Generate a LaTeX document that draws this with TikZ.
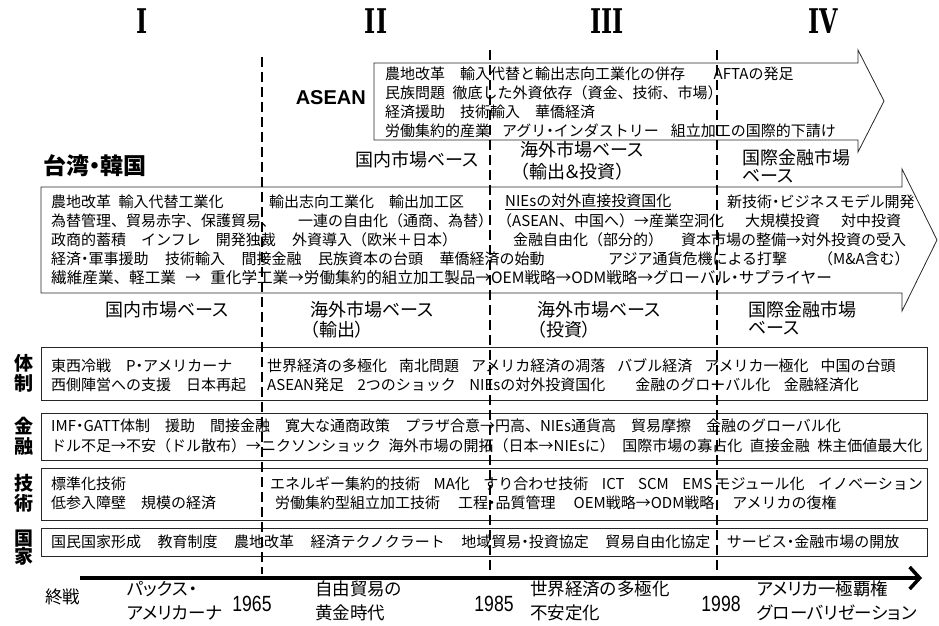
\documentclass[tikz,border=0pt]{standalone}
\usepackage{fontspec}
\setmainfont{Liberation Sans}
\newfontfamily\jp{Noto Sans CJK JP}[RawFeature=+palt]
\newfontfamily\jpn{Noto Sans CJK JP}
\newfontfamily\romanfont{DejaVu Serif}
\usetikzlibrary{arrows.meta}
\newcommand\G[1][1]{\hspace{#1em}}
\newcommand\D{{\jp ・}}
\begin{document}
\begin{tikzpicture}[x=1pt,y=-1pt,
  txt/.style={anchor=west,inner sep=0pt,font=\jpn\fontsize{15}{17}\selectfont},
  lab/.style={anchor=west,inner sep=0pt,align=left,font=\jp\fontsize{18}{21}\selectfont},
  side/.style={inner sep=0pt,align=center,font=\jp\bfseries\fontsize{19}{20}\selectfont},
  numeral/.style={inner sep=0pt,font=\romanfont\bfseries\fontsize{34}{34}\selectfont},
  rowbox/.style={draw=black!85,line width=0.8pt},
  bigarrow/.style={draw=black!85,line width=0.8pt,line join=miter},
  divider/.style={line width=2.8pt,dash pattern=on 10pt off 5pt},
  year/.style={inner sep=0pt,font=\fontsize{22}{22}\selectfont},
  era/.style={anchor=west,inner sep=0pt,align=left,font=\jp\fontsize{17.5}{24}\selectfont}
]
\useasboundingbox (0,0) rectangle (939,625);

% era numerals
\node[numeral] (n1) at (142,21) {\scalebox{0.7}[1]{I}};
\node[numeral] (n2) at (376,21) {\scalebox{0.7}[1]{II}};
\node[numeral] (n3) at (607,21) {\scalebox{0.7}[1]{III}};
\node[numeral] (n4) at (823,21) {\scalebox{0.7}[1]{IV}};

% ASEAN arrow
\draw[bigarrow] (374,63) -- (858,63) -- (858,50) -- (884,101) -- (858,152) -- (858,140) -- (374,140) -- cycle;
\node[inner sep=0pt,anchor=east,font=\bfseries\fontsize{20}{20}\selectfont] (asean) at (366,98) {ASEAN};
\node[txt] (a1) at (385,74) {農地改革\G 輸入代替と輸出志向工業化の併存\G[1.9]AFTAの発足};
\node[txt] (a2) at (385,93) {民族問題\G[0.5]徹底した外資依存（資金、技術、市場）};
\node[txt] (a3) at (385,112) {経済援助\G 技術輸入\G 華僑経済};
\node[txt] (a4) at (385,131) {労働集約的産業\G[0.8]アグリ\D インダストリー\G[0.8]組立加工の国際的下請け};

% Taiwan / Korea
\node[anchor=west,inner sep=0pt,font=\jp\bfseries\fontsize{23}{23}\selectfont] (tw) at (43,166) {台湾・韓国};
\node[lab] (u1) at (355,160) {国内市場ベース};
\node[lab,font=\jp\fontsize{18}{22}\selectfont] (u2) at (520,161) {海外市場ベース\\（輸出＆投資）};
\node[lab,font=\jp\fontsize{18}{18}\selectfont] (u3) at (742,166) {国際金融市場\\ベース};

\draw[bigarrow] (41,187) -- (902,187) -- (902,169) -- (937,240) -- (902,311) -- (902,293) -- (41,293) -- cycle;
\node[txt] (t1a) at (51,202) {農地改革\G[0.5]輸入代替工業化};
\node[txt] (t1b) at (269,202) {輸出志向工業化\G 輸出加工区};
\node[txt] (t1c) at (505,202) {\underline{NIEsの対外直接投資国化}};
\node[txt] (t1d) at (727,202) {新技術\D ビジネスモデル開発};
\node[txt] (t2a) at (51,221) {為替管理、貿易赤字、保護貿易、};
\node[txt] (t2b) at (298,221) {一連の自由化（通商、為替）};
\node[txt] (t2c) at (497,221) {（ASEAN、中国へ）→産業空洞化\G[1.4]大規模投資\G[1.4]対中投資};
\node[txt] (t3a) at (51,240) {政商的蓄積\G インフレ\G 開発独裁};
\node[txt] (t3b) at (292,240) {外資導入（欧米＋日本）};
\node[txt] (t3c) at (513,240) {金融自由化（部分的）\G[1.2]資本市場の整備→対外投資の受入};
\node[txt] (t4a) at (51,259) {経済\D 軍事援助\G[1.1]技術輸入\G[1.1]間接金融\G[1.1]民族資本の台頭\G[1.1]華僑経済の始動};
\node[txt] (t4b) at (608,259) {アジア通貨危機による打撃};
\node[txt] (t4c) at (818,259) {（M\&A含む）};
\node[txt,font=\jpn\fontsize{15.6}{17}\selectfont] (t5) at (51,278) {繊維産業、軽工業\G[0.6]→\G[0.6]重化学工業→労働集約的組立加工製品→OEM戦略→ODM戦略→グローバル\D サプライヤー};

\node[lab] (l1) at (105,310) {国内市場ベース};
\node[lab,font=\jp\fontsize{18}{20}\selectfont] (l2) at (310,320) {海外市場ベース\\（輸出）};
\node[lab,font=\jp\fontsize{18}{20}\selectfont] (l3) at (537,320) {海外市場ベース\\（投資）};
\node[lab,font=\jp\fontsize{18}{18}\selectfont] (l4) at (748,318) {国際金融市場\\ベース};

% 体制
\node[side] (sTai) at (24,373) {体\\制};
\draw[rowbox] (41,347) rectangle (927,400);
\node[txt] (s1a) at (51,366) {東西冷戦\G P\D アメリカーナ};
\node[txt] (s1b) at (267,366) {世界経済の多極化\G[0.8]南北問題\G[0.8]アメリカ経済の凋落\G[0.8]バブル経済\G[0.8]アメリカ一極化\G[0.8]中国の台頭};
\node[txt] (s2a) at (51,385) {西側陣営への支援\G 日本再起};
\node[txt] (s2b) at (267,385) {ASEAN発足\G[0.9]2つのショック\G[0.9]NIEsの対外投資国化\G[2]金融のグローバル化\G[0.9]金融経済化};

% 金融
\node[side] (sKin) at (24,436) {金\\融};
\draw[rowbox] (41,413) rectangle (927,460);
\node[txt] (f1) at (51,426) {IMF\D GATT体制\G 援助\G 間接金融\G 寛大な通商政策\G プラザ合意→円高、NIEs通貨高\G 貿易摩擦\G 金融のグローバル化};
\node[txt] (f2) at (51,446) {ドル不足→不安（ドル散布）→ニクソンショック\G[0.5]海外市場の開拓（日本→NIEsに）\G[0.5]国際市場の寡占化\G[0.5]直接金融\G[0.5]株主価値最大化};

% 技術
\node[side] (sGi) at (24,493) {技\\術};
\draw[rowbox] (41,468) rectangle (927,520);
\node[txt] (g1a) at (51,484) {標準化技術};
\node[txt] (g1b) at (270,484) {エネルギー集約的技術\G[0.9]MA化\G[0.9]すり合わせ技術\G[0.9]ICT\G[0.9]SCM\G[0.9]EMS モジュール化\G[0.9]イノベーション};
\node[txt] (g2a) at (51,503) {低参入障壁\G 規模の経済};
\node[txt] (g2b) at (275,503) {労働集約型組立加工技術\G[1.2]工程\D 品質管理\G[1.2]OEM戦略→ODM戦略\G[1.2]アメリカの復権};

% 国家
\node[side,font=\jp\bfseries\fontsize{19}{18}\selectfont] (sKo) at (24,548) {国\\家};
\draw[rowbox] (41,528) rectangle (927,556);
\node[txt] (k1) at (51,542) {国民国家形成\G[1.1]教育制度\G[1.1]農地改革\G[1.1]経済テクノクラート\G[1.1]地域貿易\D 投資協定\G[1.1]貿易自由化協定\G[1.1]サービス\D 金融市場の開放};

% time axis
\coordinate (ax0) at (80,578);
\coordinate (ax1) at (922,578);
\draw[line width=4pt,-{Straight Barb[length=10pt,width=22pt,line width=3.5pt]}] (ax0) -- (ax1);
\node[era] (e0) at (45,597) {終戦};
\node[era] (e1) at (127,601) {パックス・\\アメリカーナ};
\node[year] (y1) at (252,604) {\scalebox{0.8}[1]{1965}};
\node[era] (e2) at (315,601) {自由貿易の\\黄金時代};
\node[year] (y2) at (494,604) {\scalebox{0.8}[1]{1985}};
\node[era] (e3) at (530,601) {世界経済の多極化\\不安定化};
\node[year] (y3) at (721,604) {\scalebox{0.8}[1]{1998}};
\node[era] (e4) at (757,601) {アメリカ一極覇権\\グローバリゼーション};

% period dividers
\coordinate (d1t) at (262,57); \coordinate (d1b) at (262,574);
\coordinate (d2t) at (490,50); \coordinate (d2b) at (490,574);
\coordinate (d3t) at (717,50); \coordinate (d3b) at (717,574);
\draw[divider] (d1t) -- (d1b);
\draw[divider] (d2t) -- (d2b);
\draw[divider] (d3t) -- (d3b);
\end{tikzpicture}
\end{document}
